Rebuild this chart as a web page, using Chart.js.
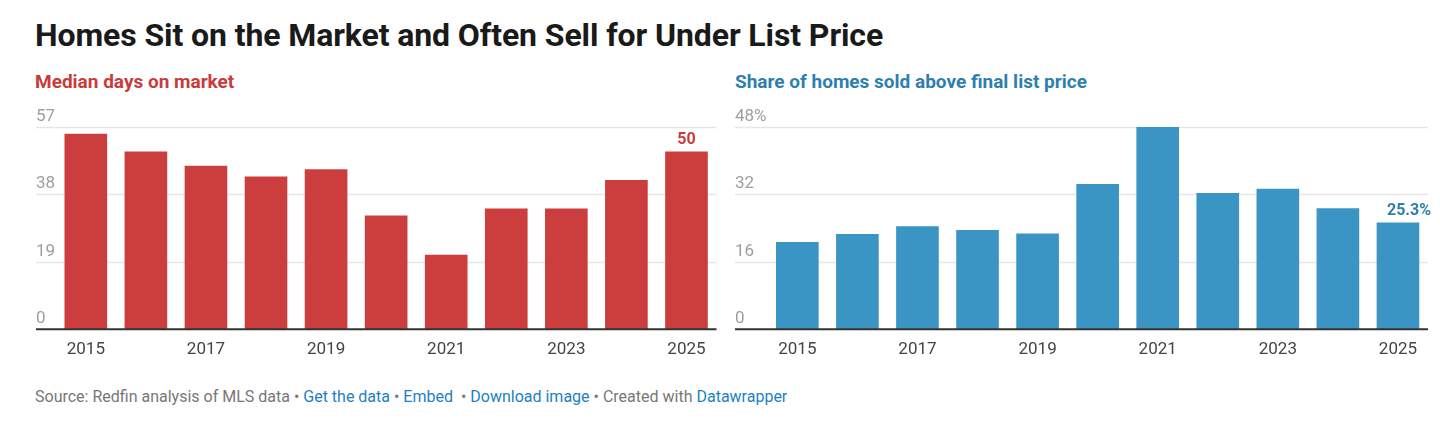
<!DOCTYPE html>
<html>
<head>
<meta charset="utf-8">
<script src="https://cdn.jsdelivr.net/npm/chart.js@4.4.1/dist/chart.umd.min.js"></script>
<style>
  html, body { margin: 0; padding: 0; background: #fff; }
  body { width: 1440px; height: 431px; position: relative; overflow: hidden; font-family: Roboto, "Noto Sans", sans-serif; }
  #title { position: absolute; left: 35px; top: 16px; font-size: 32px; font-weight: 700; color: #1a1a1a; white-space: nowrap; letter-spacing: -0.1px; }
  .sub { position: absolute; top: 70px; font-size: 19px; font-weight: 700; white-space: nowrap; }
  #subL { left: 35px; color: #c93b3b; }
  #subR { left: 735px; color: #2e7fae; }
  .box { position: absolute; top: 100px; width: 720px; height: 270px; }
  #boxL { left: 0; }
  #boxR { left: 720px; }
  #foot { position: absolute; left: 35px; top: 387px; font-size: 16px; color: #777; white-space: nowrap; }
  #foot a { color: #1d7fc4; text-decoration: none; }
</style>
</head>
<body>
<div id="title">Homes Sit on the Market and Often Sell for Under List Price</div>
<div class="sub" id="subL">Median days on market</div>
<div class="sub" id="subR">Share of homes sold above final list price</div>
<div class="box" id="boxL"><canvas id="cL"></canvas></div>
<div class="box" id="boxR"><canvas id="cR"></canvas></div>
<div id="foot">Source: Redfin analysis of MLS data • <a>Get the data</a> • <a>Embed</a> &nbsp;• <a>Download image</a> • Created with <a>Datawrapper</a></div>
<script>
const years = ['2015','2016','2017','2018','2019','2020','2021','2022','2023','2024','2025'];
const daysOnMarket = [55, 50, 46, 43, 45, 32, 21, 34, 34, 42, 50];
const shareAboveList = [20.7, 22.6, 24.4, 23.5, 22.7, 34.4, 47.9, 32.3, 33.3, 28.7, 25.3];
const daysTicks = [0, 19, 38, 57];
const daysTickLabels = ['0', '19', '38', '57'];
const shareTicks = [0, 16, 32, 48];
const shareTickLabels = ['0', '16', '32', '48%'];
const daysLastLabel = '50';
const shareLastLabel = '25.3%';

function gridPlugin(cfg) {
  return {
    id: 'dwgrid',
    beforeDatasetsDraw(chart) {
      const ctx = chart.ctx, y = chart.scales.y, area = chart.chartArea;
      ctx.save();
      ctx.font = '17px Roboto';
      ctx.textAlign = 'left';
      ctx.textBaseline = 'alphabetic';
      cfg.ticks.forEach((v, i) => {
        const py = Math.round(y.getPixelForValue(v)) + 0.5;
        if (v !== 0) {
          ctx.strokeStyle = '#e6e6e6';
          ctx.lineWidth = 1.5;
          ctx.beginPath(); ctx.moveTo(cfg.gridLeft, py); ctx.lineTo(area.right, py); ctx.stroke();
        }
        ctx.fillStyle = '#9e9e9e';
        ctx.fillText(cfg.labels[i], cfg.gridLeft, py - 7);
      });
      ctx.restore();
    },
    afterDatasetsDraw(chart) {
      const ctx = chart.ctx, y = chart.scales.y, area = chart.chartArea;
      ctx.save();
      const py = y.getPixelForValue(0);
      ctx.strokeStyle = '#333';
      ctx.lineWidth = 2;
      ctx.beginPath(); ctx.moveTo(cfg.gridLeft, py); ctx.lineTo(area.right, py); ctx.stroke();
      const meta = chart.getDatasetMeta(0);
      const last = meta.data[meta.data.length - 1];
      ctx.font = 'bold 16px Roboto';
      ctx.fillStyle = cfg.labelColor;
      ctx.textAlign = cfg.labelAlign || 'center';
      ctx.textBaseline = 'alphabetic';
      const lx = cfg.labelAlign === 'right' ? area.right + 3 : last.x;
      ctx.fillText(cfg.lastLabel, lx, last.y - 8);
      ctx.restore();
    }
  };
}

function makeChart(id, data, color, max, padL, padR, cfg) {
  return new Chart(document.getElementById(id), {
    type: 'bar',
    data: { labels: years, datasets: [{ data: data, backgroundColor: color, borderWidth: 0, categoryPercentage: 1, barPercentage: 0.71 }] },
    options: {
      responsive: true, maintainAspectRatio: false, animation: false,
      layout: { padding: { left: padL, right: padR, top: 26.7, bottom: 0 } },
      plugins: { legend: { display: false }, tooltip: { enabled: false } },
      scales: {
        y: { display: false, min: 0, max: max },
        x: {
          grid: { display: false, drawTicks: false }, border: { display: false },
          ticks: { autoSkip: false, maxRotation: 0, padding: 10, color: '#444', font: { family: 'Roboto', size: 17 },
            callback: function (v, i) { return i % 2 === 0 ? years[i] : ''; } },
          afterFit: function (s) { s.height = 40.7; }
        }
      }
    },
    plugins: [gridPlugin(cfg)]
  });
}

makeChart('cL', daysOnMarket, '#cc3e3e', 57, 55.8, 3.5,
  { ticks: daysTicks, labels: daysTickLabels, gridLeft: 36, lastLabel: daysLastLabel, labelColor: '#c93b3b' });
makeChart('cR', shareAboveList, '#3a95c5', 48, 47.3, 12,
  { ticks: shareTicks, labels: shareTickLabels, gridLeft: 15, lastLabel: shareLastLabel, labelColor: '#2e7fae', labelAlign: 'right' });
</script>
</body>
</html>
